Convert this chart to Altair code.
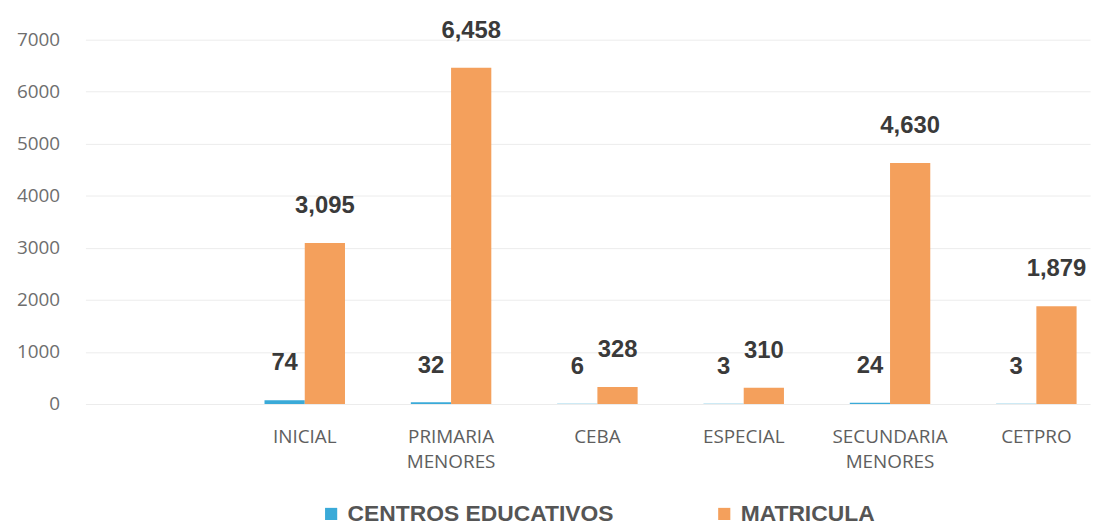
import altair as alt
import pandas as pd

categorias = ["INICIAL", "PRIMARIA MENORES", "CEBA", "ESPECIAL", "SECUNDARIA MENORES", "CETPRO"]
centros = [74, 32, 6, 3, 24, 3]
matricula = [3095, 6458, 328, 310, 4630, 1879]
series = ["CENTROS EDUCATIVOS", "MATRICULA"]
colores = ["#3AAAD8", "#F4A05C"]

rows = []
for c, a, b in zip(categorias, centros, matricula):
    rows.append({"cat": c, "serie": series[0], "valor": a})
    rows.append({"cat": c, "serie": series[1], "valor": b})
df = pd.DataFrame(rows)

x = alt.X("cat:N", sort=categorias, title=None,
          scale=alt.Scale(paddingInner=0.45, paddingOuter=0.658, align=0.93),
          axis=alt.Axis(labelAngle=0, labelExpr="split(datum.label, ' ')",
                        labelFont="Open Sans", labelFontSize=19, labelColor="#5e5e5e",
                        labelPadding=33, labelLineHeight=25, ticks=False, domain=False,
                        grid=False, labelBaseline="middle"))
y = alt.Y("valor:Q", title=None,
          scale=alt.Scale(domain=[0, 7000], nice=False),
          axis=alt.Axis(values=[0, 1000, 2000, 3000, 4000, 5000, 6000, 7000], format="d",
                        labelFont="Open Sans", labelFontSize=19, labelColor="#6e6e6e",
                        labelPadding=26, ticks=False, domain=False,
                        gridColor="#ececec", gridWidth=1))
xo = alt.XOffset("serie:N", sort=series)
color = alt.Color("serie:N", sort=series,
                  scale=alt.Scale(domain=series, range=colores),
                  legend=alt.Legend(title=None, orient="none", direction="horizontal",
                                    legendX=236, legendY=466,
                                    symbolType="square", symbolSize=150,
                                    symbolStrokeWidth=0, labelFont="Liberation Sans",
                                    labelFontSize=23, labelFontWeight="bold",
                                    labelColor="#555555", columnPadding=100,
                                    labelLimit=500, symbolOffset=0, labelOffset=5))

bars = alt.Chart(df).mark_bar().encode(x=x, y=y, xOffset=xo, color=color)
text = alt.Chart(df).mark_text(dy=-37, font="Liberation Sans", fontSize=24,
                               fontWeight="bold", color="#3a3a3a").encode(
    x=x, y=y, xOffset=xo, text=alt.Text("valor:Q", format=","))

chart = alt.layer(bars, text).properties(
    width=1012, height=367, background="white",
    autosize=alt.AutoSizeParams(type="none"),
    padding={"top": 30, "left": 78, "right": 10, "bottom": 120},
).configure_view(strokeWidth=0, stroke="transparent")

chart.save("out.html", embed_options={"renderer": "svg", "actions": False})
